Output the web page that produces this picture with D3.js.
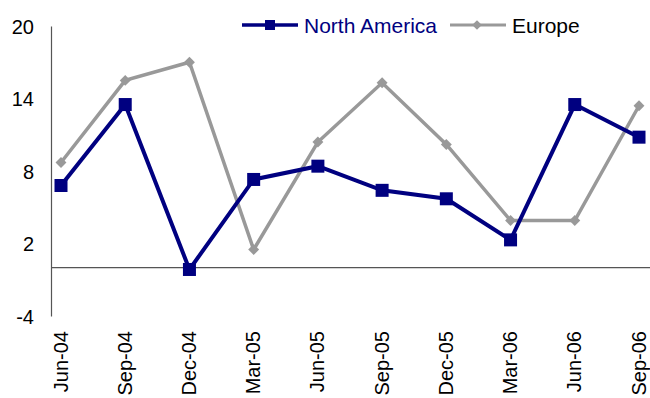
<!DOCTYPE html>
<html><head><meta charset="utf-8">
<script src="https://cdn.jsdelivr.net/npm/d3@7"></script>
<style>body{margin:0;background:#fff}svg{display:block}text{font-family:Arial,"Liberation Sans",sans-serif}</style>
</head><body><svg id="c" width="650" height="398"></svg>
<script>
const categories = ["Jun-04","Sep-04","Dec-04","Mar-05","Jun-05","Sep-05","Dec-05","Mar-06","Jun-06","Sep-06"];
const northAmerica = [6.8, 13.5, -0.15, 7.3, 8.4, 6.4, 5.7, 2.3, 13.5, 10.8];
const europe = [8.7, 15.5, 17.0, 1.5, 10.4, 15.3, 10.2, 3.9, 3.9, 13.4];
const yTicks = [-4, 2, 8, 14, 20];

const svg = d3.select("#c");
const x = d3.scalePoint().domain(categories).range([61, 639]);
const y = d3.scaleLinear().domain([-4, 20]).range([316, 26]);

// y axis
const yAxis = d3.axisLeft(y).tickValues(yTicks).tickSize(0).tickPadding(17).tickFormat(d => String(d));
const ya = svg.append("g").attr("transform","translate(51,0)").call(yAxis);
ya.select(".domain").attr("stroke","#555").attr("stroke-width",1.2);
ya.selectAll("text").attr("font-size",20).attr("fill","#000").attr("dy","0.36em");

// zero line
svg.append("line").attr("x1",51).attr("x2",650).attr("y1",y(0)).attr("y2",y(0))
  .attr("stroke","#555").attr("stroke-width",1.2);

// x labels
const xAxis = d3.axisBottom(x).tickSize(0).tickPadding(0);
const xa = svg.append("g").attr("transform","translate(0,331)").call(xAxis);
xa.select(".domain").remove();
xa.selectAll("text").attr("font-size",20).attr("fill","#000")
  .attr("text-anchor","end").attr("dy",null).attr("y",0)
  .attr("transform","translate(6,0) rotate(-90)");

const line = d3.line().x((d,i)=>x(categories[i])).y(d=>y(d));

// Europe
svg.append("path").datum(europe).attr("d",line).attr("fill","none")
  .attr("stroke","#999").attr("stroke-width",3.5).attr("stroke-linejoin","miter");
svg.append("g").selectAll("path").data(europe).join("path")
  .attr("transform",(d,i)=>`translate(${x(categories[i])},${y(d)})`)
  .attr("d", d3.symbol(d3.symbolDiamond2, 76)).attr("fill","#999");

// North America
svg.append("path").datum(northAmerica).attr("d",line).attr("fill","none")
  .attr("stroke","#000080").attr("stroke-width",4).attr("stroke-linejoin","miter");
svg.append("g").selectAll("rect").data(northAmerica).join("rect")
  .attr("x",(d,i)=>x(categories[i])-6.5).attr("y",d=>y(d)-6.5)
  .attr("width",13).attr("height",13).attr("fill","#000080");

// legend
const lg = svg.append("g");
lg.append("line").attr("x1",242).attr("x2",298).attr("y1",25).attr("y2",25).attr("stroke","#000080").attr("stroke-width",3.5);
lg.append("rect").attr("x",265).attr("y",20).attr("width",10).attr("height",10).attr("fill","#000080");
lg.append("text").attr("x",304).attr("y",33).attr("font-size",21).attr("fill","#000080").text("North America");
lg.append("line").attr("x1",450).attr("x2",506).attr("y1",25).attr("y2",25).attr("stroke","#999").attr("stroke-width",3);
lg.append("path").attr("transform","translate(477,25)").attr("d",d3.symbol(d3.symbolDiamond2,60)).attr("fill","#999");
lg.append("text").attr("x",512).attr("y",33).attr("font-size",21).attr("fill","#000").text("Europe");
</script></body></html>
